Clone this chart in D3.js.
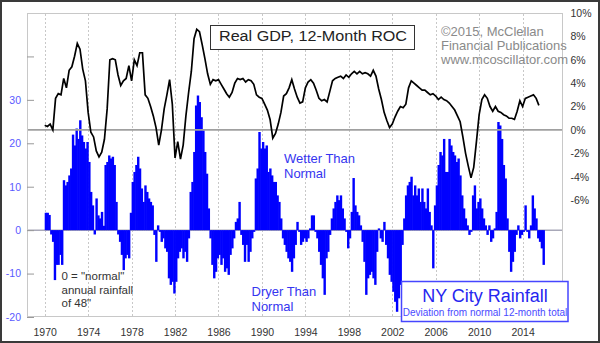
<!DOCTYPE html>
<html><head><meta charset="utf-8">
<script src="https://cdn.jsdelivr.net/npm/d3@7"></script>
<style>
html,body{margin:0;padding:0;background:#fff;}
svg{display:block;font-family:"Liberation Sans",Arial,sans-serif;}
</style></head><body>
<svg id="c" width="600" height="343"></svg>
<script>
// NY City rainfall: deviation from normal 12-month total (inches), every 2 months from Jan 1970
const rainStart = 1970;
const rainStep = 1/6;
const rainValues = [
 4, 4, 3.5, -1, -2.7, -11.5, -8, -8, -5.7, -8,
 11.5, 10.3, 11.1, 12.6, 14.2, 22, 19.5, 23.4, 21, 25.3,
 21.8, 20.3, 18.8, 20.3, 15.7, 8.8, 5.7, -1, 7.3, 3.4,
 2.7, 4.2, 1, 15, 15.7, 17.2, 16.5, 16.9, 15, 6.5,
 -1, -2.7, -5.7, -9.2, -6.5, -5.7, -6.5, 4, 11.1, 13.4,
 15, 16.9, 14.2, 9.6, 6.5, 10.3, 8.8, 7.3, 6.5, 5.7,
 -1.1, -7.3, 1.1, -0.4, -2.7, -1.9, -4.2, -5, -11.1, -12.6,
 -11.9, -14.6, -11.9, -6.5, -5, -4.2, -6.5, -5, -7.3, -1.9,
 8.8, 11.1, 18, 28.7, 31, 29.5, 26, 23, 18, 13,
 5, -1.9, -8, -11.1, -9.6, -6.5, -5.7, -8, -6.5, -9.6,
 -8.8, -10.3, -5.7, -4.2, -1.9, 1.9, 2.7, 6.5, -1.1, -3.4,
 -7.3, -3.4, -7.3, -5, -1.9, -0.4, 11.9, 14.2, 22.6, 18.8,
 20.3, 18.8, 19.5, 13.4, 14.2, 12.6, 11.1, 11.1, 8, 6.5,
 2.7, -1.9, -3.4, -5, -6.5, -7.3, -9.6, -6.5, -3.4, 1.9,
 -0.4, -3.4, -2.7, -1.9, -2.7, -1.9, 0.4, 3.4, 3.4, -0.4,
 -1.9, -5, -8, -11.1, -14.9, -6.5, -5, -1.1, 2.7, 5,
 6.5, 8, 6.9, 8, 5, 2.7, -0.4, -4.2, -1.9, 4.2,
 12, 5.7, 4.2, 3.4, 1.1, -2.7, -7.3, -14.9, -11.1, -10.3,
 -9.6, -11.1, -12.6, -5, 0.4, -1.9, -2.7, 1.9, -3.4, -6.5,
 -10.3, -11.9, -14.2, -16.5, -18.8, -15.7, -12.6, -3.4, 2.7, 8,
 10.3, 11.1, 12.3, 8, 10.3, 8, 9.6, 6.5, 9.6, 6.5,
 5, 9.6, 4.2, 1.1, -8.8, 5.7, 10.3, 15, 18, 17.2,
 21, 13.4, 13.4, 21, 19.5, 18, 17.2, 15.7, 16.5, 12.6,
 8, 5, 2.7, 1.1, -1.1, -0.4, 8, 10.3, 5, 6.5,
 7.3, 5, 2.7, 1.1, -1.1, 1.1, -2.7, -1.9, 0.4, 4.2,
 24.9, 24.1, 21, 15, 11.9, 2.7, -5, -9.6, -7.3, -5,
 -1.1, 1.1, -1.9, -1.1, -0.4, 5.7, -0.4, -1.9, 1.1, 8,
 5, 2.7, -1.9, -2.7, -4.2, -8
];
// Real GDP 12-month rate of change (%), quarterly from 1970
const gdpStart = 1970;
const gdpStep = 0.25;
const gdpValues = [
 0.4, 0.3, 0.5, 0.0, 2.7, 3.1, 3.0, 4.4, 3.6, 5.1,
 5.4, 6.3, 7.4, 6.9, 5.2, 4.2, 1.5, -0.2, -0.6, -1.8,
 -2.3, -1.9, -0.8, 1.8, 6.0, 6.1, 6.0, 4.7, 3.8, 4.2,
 4.4, 5.5, 4.2, 6.0, 5.5, 6.6, 6.6, 3.0, 2.7, 2.0,
 1.2, 0.2, -1.3, 0.0, 1.8, 3.0, 4.3, 2.2, -2.4, -1.0,
 -2.5, -1.3, 1.2, 3.2, 5.0, 7.8, 8.6, 8.4, 7.3, 6.1,
 4.8, 3.9, 4.3, 4.2, 4.3, 3.9, 3.5, 3.1, 2.8, 3.2,
 4.0, 4.4, 4.3, 4.4, 4.1, 4.3, 4.2, 3.9, 3.0, 2.8,
 2.7, 2.2, 1.7, 0.9, -0.7, -0.3, 0.5, 1.5, 2.9, 3.1,
 3.6, 4.3, 3.5, 2.8, 2.3, 2.4, 3.6, 4.1, 4.3, 4.0,
 3.4, 2.7, 2.5, 2.6, 2.4, 3.3, 4.2, 4.4, 4.5, 4.6,
 4.4, 4.7, 4.5, 4.8, 5.0, 4.8, 5.0, 4.8, 4.9, 4.8,
 4.6, 5.1, 4.6, 3.5, 2.6, 1.5, 0.8, 0.2, 0.5, 1.1,
 1.6, 2.0, 1.9, 2.2, 3.6, 4.2, 4.0, 3.8, 3.6, 3.4,
 3.4, 3.2, 3.0, 3.1, 2.9, 2.6, 2.8, 2.6, 2.5, 2.3,
 2.0, 1.7, 1.2, 0.7, -0.6, -2.0, -3.1, -4.1, -3.2, -1.0,
 1.3, 2.6, 3.0, 2.7, 2.0, 1.6, 2.0, 1.6, 1.5, 1.3,
 1.2, 1.0, 1.0, 0.9, 1.6, 2.5, 2.0, 2.7, 2.8, 2.9,
 3.0, 2.7, 2.1
];
const yearTicks = [1970,1974,1978,1982,1986,1990,1994,1998,2002,2006,2010,2014];
const rainTicks = [-20,-10,0,10,20,30,40];
const rainTickLabels = ["-20","-10","0","10","20","30",""];
const gdpTicks = [-6,-4,-2,0,2,4,6,8,10];

const svg = d3.select("#c");
const L = 27, R = 563, T = 13, B = 317;
const x = d3.scaleLinear().domain([1968.37, 2017.72]).range([L, R]);
const yR = d3.scaleLinear().domain([-20, 50]).range([B, T]);
const yG = d3.scaleLinear().domain([-16, 10]).range([B, T]);

// outer frame
svg.append("rect").attr("x",1).attr("y",1).attr("width",598).attr("height",341)
  .attr("fill","#fff").attr("stroke","#3a3a3a").attr("stroke-width",2);
// plot area
svg.append("rect").attr("x",L+0.5).attr("y",T+0.5).attr("width",R-L-1).attr("height",B-T-1)
  .attr("fill","#fff").attr("stroke","#c8c8c8").attr("stroke-width",1);

// vertical dashed gridlines
svg.append("g").selectAll("line").data(yearTicks).join("line")
  .attr("x1",d=>Math.round(x(d))+0.5).attr("x2",d=>Math.round(x(d))+0.5)
  .attr("y1",T+1).attr("y2",B-1)
  .attr("stroke","#c8c8c8").attr("stroke-dasharray","2,2");

// rainfall zero line
svg.append("line").attr("x1",L+1).attr("x2",R-1).attr("y1",yR(0)).attr("y2",yR(0))
  .attr("stroke","#a8a8b8").attr("stroke-width",1.5);

// rainfall bars
const bw = x(rainStep) - x(0);
svg.append("g").selectAll("rect").data(rainValues).join("rect")
  .attr("x",(d,i)=>x(rainStart + i*rainStep))
  .attr("width",bw+0.6)
  .attr("y",d=>yR(Math.max(0,d)))
  .attr("height",d=>Math.abs(yR(d)-yR(0)))
  .attr("fill","#0000ff");

// GDP zero line
svg.append("line").attr("x1",L+1).attr("x2",R-1).attr("y1",yG(0)).attr("y2",yG(0))
  .attr("stroke","#a0a0a0").attr("stroke-width",1.8);

// left axis (rainfall)
const la = svg.append("g").attr("transform",`translate(${L},0)`)
  .call(d3.axisLeft(yR).tickValues(rainTicks).tickSize(-7).tickPadding(6)
    .tickFormat((d,i)=>rainTickLabels[i]));
la.select(".domain").remove();
la.selectAll(".tick line").attr("stroke","#999");
la.selectAll("text").attr("fill","#5a5aff").attr("font-size","10.5px")
  .attr("font-family","'Liberation Sans',Arial,sans-serif");

// right axis (GDP)
const ra = svg.append("g").attr("transform",`translate(${R},0)`)
  .call(d3.axisRight(yG).tickValues(gdpTicks).tickSize(0).tickPadding(7.5)
    .tickFormat(d=>d+"%"));
ra.select(".domain").remove();
ra.selectAll("text").attr("fill","#333").attr("font-size","10.5px")
  .attr("font-family","'Liberation Sans',Arial,sans-serif");

// bottom axis
const ba = svg.append("g").attr("transform",`translate(0,${B})`)
  .call(d3.axisBottom(x).tickValues(yearTicks).tickSize(0).tickPadding(12).tickFormat(d3.format("d")));
ba.select(".domain").remove();
ba.selectAll("text").attr("fill","#333").attr("font-size","10.5px")
  .attr("font-family","'Liberation Sans',Arial,sans-serif");

// GDP line
const line = d3.line().x((d,i)=>x(gdpStart + i*gdpStep)).y(d=>yG(d));
svg.append("path").datum(gdpValues).attr("d",line)
  .attr("fill","none").attr("stroke","#000").attr("stroke-width",1.7)
  .attr("stroke-linejoin","miter");

// title box
svg.append("rect").attr("x",210.5).attr("y",25.5).attr("width",204).attr("height",24)
  .attr("fill","#fff").attr("stroke","#333").attr("stroke-width",1);
svg.append("text").attr("x",219).attr("y",41).attr("font-size","15.5px").attr("fill","#222")
  .attr("textLength",188).attr("lengthAdjust","spacingAndGlyphs")
  .text("Real GDP, 12-Month ROC");

// copyright
const cp = ["\u00A92015, McClellan","Financial Publications","www.mcoscillator.com"];
svg.append("g").selectAll("text").data(cp).join("text")
  .attr("x",441).attr("y",(d,i)=>36+i*14).attr("font-size","13px").attr("fill","#8a8a8a")
  .text(d=>d);

// annotations
const wet = ["Wetter Than","Normal"];
svg.append("g").selectAll("text").data(wet).join("text")
  .attr("x",284).attr("y",(d,i)=>163+i*15).attr("font-size","13px").attr("fill","#3535f0").text(d=>d);
const dry = ["Dryer Than","Normal"];
svg.append("g").selectAll("text").data(dry).join("text")
  .attr("x",251.5).attr("y",(d,i)=>296+i*15).attr("font-size","13px").attr("fill","#3535f0").text(d=>d);
const note = ["0 = \"normal\"","annual rainfall","of 48\""];
svg.append("g").selectAll("text").data(note).join("text")
  .attr("x",61.5).attr("y",(d,i)=>280+i*13.5).attr("font-size","11.5px").attr("fill","#333").text(d=>d);

// legend box
svg.append("rect").attr("x",401.5).attr("y",281.5).attr("width",166.5).attr("height",40)
  .attr("fill","#fff").attr("stroke","#4646ff").attr("stroke-width",1.5);
svg.append("text").attr("x",485).attr("y",301.5).attr("text-anchor","middle")
  .attr("font-size","18px").attr("fill","#2626f0").text("NY City Rainfall");
svg.append("text").attr("x",485).attr("y",315.5).attr("text-anchor","middle")
  .attr("font-size","10px").attr("fill","#4a4aff").text("Deviation from normal 12-month total");
</script>
</body></html>
